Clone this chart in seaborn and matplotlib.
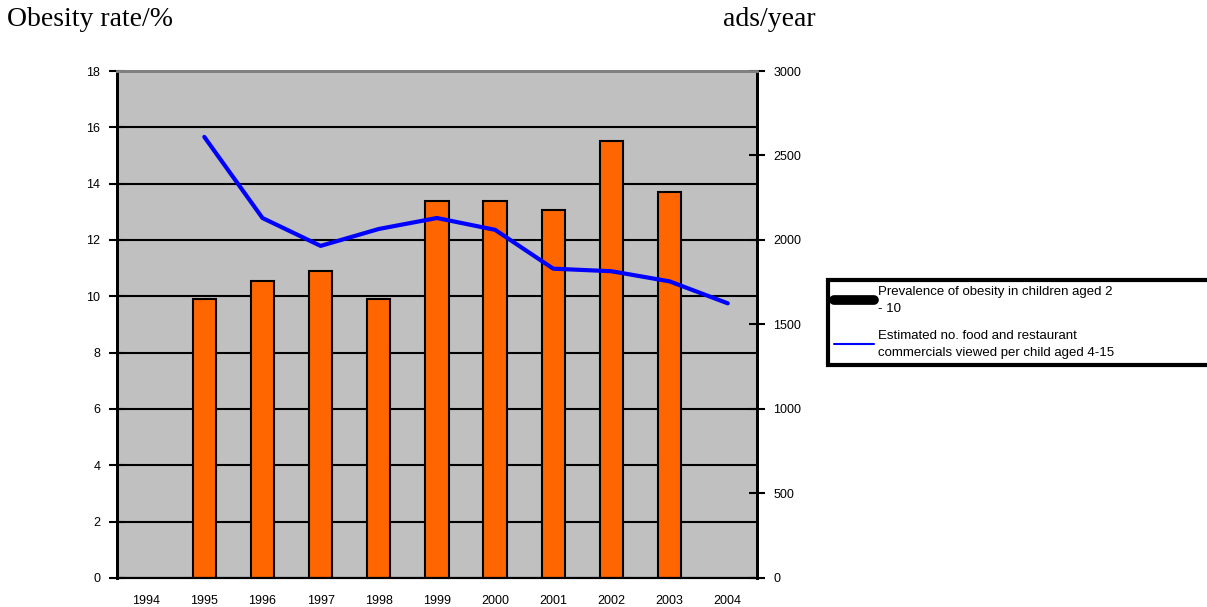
import matplotlib
matplotlib.use("Agg")
import matplotlib.pyplot as plt
from matplotlib.lines import Line2D
from matplotlib.ticker import MultipleLocator
import numpy as np
import pandas as pd
import seaborn as sns

years = [1994, 1995, 1996, 1997, 1998, 1999, 2000, 2001, 2002, 2003, 2004]
obesity = [np.nan, 9.9, 10.55, 10.9, 9.9, 13.4, 13.4, 13.05, 15.5, 13.7, np.nan]
ads = [np.nan, 2610, 2130, 1965, 2065, 2130, 2060, 1830, 1815, 1755, 1625]

bar_label = "Prevalence of obesity in children aged 2\n- 10"
line_label = "Estimated no. food and restaurant\ncommercials viewed per child aged 4-15"

if __name__ == "__main__":
    sns.set_style("white")
    plt.rcParams["font.family"] = ["Liberation Sans", "DejaVu Sans"]
    plt.rcParams["text.color"] = "black"
    plt.rcParams["xtick.color"] = "black"
    plt.rcParams["ytick.color"] = "black"

    df = pd.DataFrame({"year": years, "obesity": obesity, "ads": ads})

    fig = plt.figure(figsize=(12.07, 6.07), dpi=100)
    ax = fig.add_axes([0.097, 0.048, 0.530, 0.835])
    ax.set_facecolor("#C0C0C0")

    sns.barplot(data=df.dropna(subset=["obesity"]), x="year", y="obesity",
                native_scale=True, width=0.4, color="#FF6600", saturation=1,
                edgecolor="black", linewidth=1.5, ax=ax, zorder=2)

    ax2 = ax.twinx()
    sns.lineplot(data=df.dropna(subset=["ads"]), x="year", y="ads",
                 color="#0000FF", linewidth=3, ax=ax2)

    ax.set_xlim(years[0] - 0.5, years[-1] + 0.5)
    ax.set_ylim(0, 18)
    ax2.set_ylim(0, 3000)
    ax.yaxis.set_major_locator(MultipleLocator(2))
    ax2.yaxis.set_major_locator(MultipleLocator(500))
    ax.yaxis.grid(True, color="black", linewidth=1.5)
    ax.set_axisbelow(True)

    ax.set_xticks(years)
    ax.set_xticks(np.arange(years[0] - 0.5, years[-1] + 1, 1), minor=True)
    ax.tick_params(axis="x", which="major", length=0, labelsize=9, pad=12,
                   labelcolor="black")
    ax.tick_params(axis="x", which="minor", length=10, width=1.5,
                   direction="inout", color="black")
    ax.tick_params(axis="y", length=12, width=1.5, direction="inout",
                   labelsize=9, pad=6, left=True, labelcolor="black")
    ax2.tick_params(axis="y", length=12, width=1.5, direction="inout",
                    labelsize=9, pad=6, right=True, labelcolor="black")

    ax.set_xlabel("")
    ax.set_ylabel("")
    ax2.set_xlabel("")
    ax2.set_ylabel("")

    for a in (ax, ax2):
        a.spines["left"].set_color("black")
        a.spines["left"].set_linewidth(2)
        a.spines["right"].set_color("black")
        a.spines["right"].set_linewidth(2)
        a.spines["top"].set_color("#808080")
        a.spines["top"].set_linewidth(2)
        a.spines["bottom"].set_color("black")
        a.spines["bottom"].set_linewidth(1.5)

    fig.text(0.006, 0.988, "Obesity rate/%", ha="left", va="top",
             fontsize=20, family=["Liberation Serif", "DejaVu Serif"])
    fig.text(0.676, 0.988, "ads/year", ha="right", va="top",
             fontsize=20, family=["Liberation Serif", "DejaVu Serif"])

    handles = [
        Line2D([], [], color="black", linewidth=7, solid_capstyle="round"),
        Line2D([], [], color="#0000FF", linewidth=1.5),
    ]
    leg = fig.legend(handles, [bar_label, line_label], loc="upper left",
                     bbox_to_anchor=(0.686, 0.394, 0.32, 0.145),
                     mode="expand", fontsize=9.5,
                     frameon=True, fancybox=False, framealpha=1,
                     handlelength=3.0, handletextpad=0.35, borderpad=0.45,
                     labelspacing=1.1, borderaxespad=0)
    leg.get_frame().set_edgecolor("black")
    leg.get_frame().set_linewidth(3)
    for t in leg.get_texts():
        t.set_linespacing(1.6)

    fig.savefig("out.png", dpi=100)
